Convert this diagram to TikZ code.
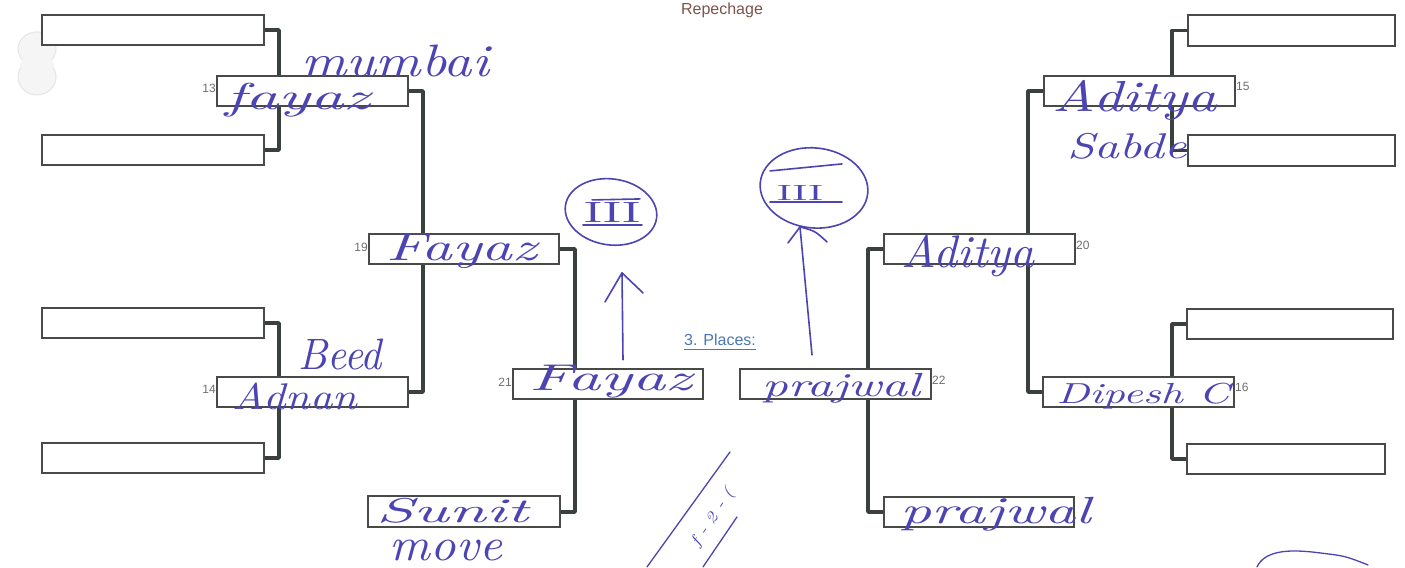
\documentclass[tikz,border=0pt]{standalone}
\usepackage{fontspec}
\usepackage{graphicx}
\usetikzlibrary{shapes.geometric}
\newfontfamily\labfont{Liberation Sans}
\definecolor{boxc}{RGB}{72,74,72}
\definecolor{connc}{RGB}{58,64,60}
\definecolor{ink}{RGB}{76,68,178}
\definecolor{brownc}{RGB}{125,84,74}
\definecolor{linkc}{RGB}{74,120,181}
\newcommand{\hw}[3]{\resizebox*{#1pt}{#2pt}{\itshape #3}}
\pgfdeclarelayer{bg}
\pgfdeclarelayer{conn}
\pgfsetlayers{bg,conn,main}
\tikzset{
  slot/.style={draw=boxc, line width=2pt, fill=white, rectangle, inner sep=0pt, minimum height=30pt},
  conn/.style={draw=connc, line width=3.6pt, line join=round},
  num/.style={font=\labfont\fontsize{12}{12}\selectfont, text=boxc!80, inner sep=0pt},
  hand/.style={text=ink, inner sep=0pt},
  pen/.style={draw=ink, line width=1.6pt, line cap=round, line join=round},
}
\begin{document}
\begin{tikzpicture}[x=1pt,y=-1pt]
\begin{pgfonlayer}{bg}
\fill[white] (0,0) rectangle (1405,562);
\useasboundingbox (0,0) rectangle (1405,562);
% scan blob
\fill[black!4, draw=black!10, line width=1pt] (37,44) circle[x radius=19, y radius=17];
\fill[black!4, draw=black!10, line width=1pt] (37,72) circle[x radius=19, y radius=18];
\fill[black!4] (37,60) circle[x radius=17, y radius=10];
\end{pgfonlayer}

% first-round slots
\node[slot, minimum width=222pt] (L1) at (153,25) {};
\node[slot, minimum width=222pt] (L2) at (153,145) {};
\node[slot, minimum width=222pt] (L3) at (153,318) {};
\node[slot, minimum width=222pt] (L4) at (153,453) {};
\node[slot, minimum width=207pt, minimum height=31pt] (R1) at (1291.5,25.5) {};
\node[slot, minimum width=207pt, minimum height=31pt] (R2) at (1291.5,145.5) {};
\node[slot, minimum width=206pt] (R3) at (1290,319) {};
\node[slot, minimum width=198pt] (R4) at (1286,454) {};
% later slots
\node[slot, minimum width=191pt] (B13) at (312.5,86) {};
\node[slot, minimum width=191pt] (B14) at (312.5,387) {};
\node[slot, minimum width=190pt] (B19) at (464,244) {};
\node[slot, minimum width=190pt] (B21) at (608,379) {};
\node[slot, minimum width=192pt, minimum height=31pt] (BS) at (464,507) {};
\node[slot, minimum width=191pt] (B15) at (1139.5,86) {};
\node[slot, minimum width=191pt] (B16) at (1138.5,387) {};
\node[slot, minimum width=191pt] (B20) at (979.5,244) {};
\node[slot, minimum width=191pt] (B22) at (835.5,379) {};
\node[slot, minimum width=190pt] (BP) at (979,507) {};

% connectors
\begin{pgfonlayer}{conn}
\draw[conn] (L1.east) -- ++(14,0) |- (L2.east);
\draw[conn] (L3.east) -- ++(14,0) |- (L4.east);
\draw[conn] (B13.east) -- ++(14,0) |- (B14.east);
\draw[conn] (B19.east) -- ++(15,0) |- (BS.east);
\draw[conn] (R1.west) -- ++(-15,0) |- (R2.west);
\draw[conn] (R3.west) -- ++(-14,0) |- (R4.west);
\draw[conn] (B15.west) -- ++(-15,0) |- (B16.west);
\draw[conn] (B20.west) -- ++(-15,0) |- (BP.west);
\end{pgfonlayer}

% numbers
\node[num, anchor=east] (n13) at ([yshift=3]B13.west) {13};
\node[num, anchor=east] (n14) at ([yshift=3]B14.west) {14};
\node[num, anchor=east] (n19) at ([yshift=2]B19.west) {19};
\node[num, anchor=east] (n21) at ([yshift=2]B21.west) {21};
\node[num, anchor=west] (n15) at ([yshift=5]B15.east) {15};
\node[num, anchor=west] (n16) at ([yshift=5]B16.east) {16};
\node[num, anchor=west] (n20) at ([yshift=4]B20.east) {20};
\node[num, anchor=west] (n22) at ([yshift=4]B22.east) {22};

% printed titles
\node[text=brownc, font=\labfont\fontsize{16}{16}\selectfont, anchor=base] (rep) at (722,10) {Repechage};
\node[text=linkc, font=\labfont\fontsize{16}{16}\selectfont, anchor=base, inner sep=0pt] (plc) at (720,341) {3. Places:};
\draw[linkc, line width=1pt] ([yshift=-3]plc.south west) -- ([yshift=-3]plc.south east);

% handwriting
\node[hand] (h1) at (395,56) {\hw{188}{32}{mumbai}};
\node[hand] (h2) at (298,95) {\hw{145}{34}{fayaz}};
\node[hand] (h3) at (462,246) {\hw{150}{35}{Fayaz}};
\node[hand] (h4) at (340,350) {\hw{84}{31}{Beed}};
\node[hand] (h5) at (295,391) {\hw{124}{27}{Adnan}};
\node[hand] (h6) at (611,377) {\hw{162}{33}{Fayaz}};
\node[hand] (h7) at (452,506) {\hw{152}{25}{Sunit}};
\node[hand] (h8) at (446,546) {\hw{112}{21}{move}};
\node[hand] (h9) at (1135,95) {\hw{164}{40}{Aditya}};
\node[hand] (h10) at (1127,141) {\hw{119}{26}{Sabde}};
\node[hand] (h11) at (968,251) {\hw{133}{42}{Aditya}};
\node[hand] (h12) at (841,383) {\hw{158}{30}{prajwal}};
\node[hand] (h13) at (1143,391) {\hw{173}{26}{Dipesh C}};
\node[hand] (h14) at (996,509) {\hw{190}{34}{prajwal}};

% circled III marks
\node[pen, ellipse, draw, minimum width=92pt, minimum height=66pt, rotate=-8, inner sep=0pt] (c1) at (611,207) {};
\node[hand] (t1) at (612,208) {\hw{56}{20}{\upshape III}};
\draw[pen] (583,220) -- (642,220);
\draw[pen] (592,195) -- (640,194);
\node[pen, ellipse, draw, minimum width=108pt, minimum height=80pt, rotate=-6, inner sep=0pt] (c2) at (814,183) {};
\node[hand] (t2) at (800,188) {\hw{46}{15}{\upshape III}};
\draw[pen] (770,166) -- (842,159);
\draw[pen] (770,197) -- (842,197);

% hand-drawn arrows
\coordinate (a1s) at (623,355);
\coordinate (a1t) at (622,268);
\draw[pen] (a1s) -- (a1t);
\draw[pen] (605,297) -- (a1t) -- (643,288);
\coordinate (a2s) at (812,350);
\coordinate (a2t) at (800,222);
\draw[pen] (a2s) -- (a2t);
\draw[pen] (788,238) -- (a2t) .. controls (815,226) .. (827,237);

% bottom scribbles
\draw[pen, line width=1.3pt] (647,562) -- (730,447);
\draw[pen, line width=1.3pt] (703,562) -- (737,512);
\node[hand, rotate=57] (sc) at (713,513) {\hw{66}{16}{f - 2 - (}};
\draw[pen, line width=1.3pt] (1257,562) .. controls (1265,545) and (1290,544) .. (1320,548) .. controls (1345,551) .. (1368,560);
\end{tikzpicture}
\end{document}
